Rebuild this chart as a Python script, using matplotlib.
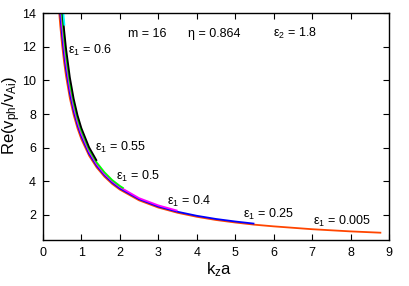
import matplotlib
matplotlib.use("Agg")
import matplotlib.pyplot as plt

plt.rcParams['font.family'] = ['Liberation Sans', 'DejaVu Sans']
plt.rcParams['mathtext.fontset'] = 'custom'
plt.rcParams['mathtext.rm'] = 'Liberation Sans'
plt.rcParams['mathtext.it'] = 'Liberation Sans'
plt.rcParams['mathtext.bf'] = 'Liberation Sans'

# ---- data ----
x_0005 = [0.42, 0.45, 0.5, 0.55, 0.6, 0.7, 0.8, 0.9, 1.0, 1.2, 1.4, 1.6, 1.8, 2.0,
          2.5, 3.0, 3.5, 4.0, 4.5, 5.0, 5.5, 6.0, 7.0, 8.0, 8.8]
y_0005 = [14.13, 13.28, 12.09, 11.10, 10.27, 8.94, 7.94, 7.14, 6.50, 5.52, 4.81, 4.27,
          3.84, 3.50, 2.86, 2.43, 2.12, 1.88, 1.69, 1.54, 1.41, 1.31, 1.14, 1.01, 0.93]

x_025 = [0.42, 0.45, 0.5, 0.55, 0.6, 0.7, 0.8, 0.9, 1.0, 1.2, 1.4, 1.6, 1.8, 2.0,
         2.5, 3.0, 3.5, 4.0, 4.5, 5.0, 5.5]
y_025 = [14.90, 13.97, 12.66, 11.58, 10.68, 9.25, 8.18, 7.34, 6.67, 5.64, 4.91, 4.36,
         3.92, 3.57, 2.93, 2.49, 2.18, 1.94, 1.75, 1.60, 1.47]

x_04 = [0.42, 0.45, 0.5, 0.55, 0.6, 0.7, 0.8, 0.9, 1.0, 1.2, 1.4, 1.6, 1.8, 2.0,
        2.5, 3.0, 3.5]
y_04 = [15.70, 14.66, 13.23, 12.06, 11.09, 9.56, 8.42, 7.53, 6.83, 5.77, 5.01, 4.44,
        4.00, 3.65, 2.99, 2.56, 2.24]

x_05 = [0.45, 0.5, 0.55, 0.6, 0.7, 0.8, 0.9, 1.0, 1.2, 1.4, 1.6, 1.8, 2.0, 2.1]
y_05 = [15.35, 13.80, 12.54, 11.50, 9.87, 8.66, 7.73, 7.00, 5.89, 5.11, 4.53, 4.07,
        3.72, 3.57]

x_055 = [0.45, 0.5, 0.55, 0.6, 0.7, 0.8, 0.9, 1.0, 1.2, 1.4]
y_055 = [16.00, 14.37, 13.02, 11.91, 10.18, 8.90, 7.92, 7.16, 6.02, 5.21]

x_06 = [0.5, 0.53, 0.56]
y_06 = [14.94, 14.02, 13.27]

series = [
    (x_0005, y_0005, '#ff4500'),
    (x_025, y_025, '#0000ff'),
    (x_04, y_04, '#ff00ff'),
    (x_05, y_05, '#00ff00'),
    (x_055, y_055, '#000000'),
    (x_06, y_06, '#00ffff'),
]

labels = [
    (0.65, 11.8, '0.6'),
    (1.35, 6.0, '0.55'),
    (1.9, 4.3, '0.5'),
    (3.22, 2.8, '0.4'),
    (5.21, 2.0, '0.25'),
    (7.02, 1.6, '0.005'),
]

xticks = [0, 1, 2, 3, 4, 5, 6, 7, 8, 9]
yticks = [2, 4, 6, 8, 10, 12, 14]

fig = plt.figure(figsize=(4.09, 2.86), dpi=100)
ax = fig.add_axes([0.105, 0.161, 0.846, 0.7925])

for xs, ys, c in series:
    ax.plot(xs, ys, color=c, lw=1.3, solid_capstyle='butt')

ax.set_xlim(0, 9)
ax.set_ylim(0.5, 14)
ax.set_xticks(xticks)
ax.set_yticks(yticks)
ax.tick_params(direction='in', length=4, width=0.8, top=True, right=True,
               labelsize=9, pad=5)
for s in ax.spines.values():
    s.set_linewidth(1.0)

fs = 9
for x, y, v in labels:
    ax.text(x, y, r'$\mathrm{\varepsilon_1}$ = ' + v, fontsize=fs, va='center', ha='left')

ax.text(2.21, 12.77, 'm = 16', fontsize=fs, va='center', ha='left')
ax.text(3.78, 12.77, 'η = 0.864', fontsize=fs, va='center', ha='left')
ax.text(5.99, 12.8, r'$\mathrm{\varepsilon_2}$ = 1.8', fontsize=fs, va='center', ha='left')

ax.set_xlabel(r'$\mathrm{k_z a}$', fontsize=12)
ax.set_ylabel(r'$\mathrm{Re(v_{ph}/v_{Ai})}$', fontsize=12)
ax.xaxis.set_label_coords(0.51, -0.09)
ax.yaxis.set_label_coords(-0.057, 0.55)

fig.savefig('out.png', dpi=100)
